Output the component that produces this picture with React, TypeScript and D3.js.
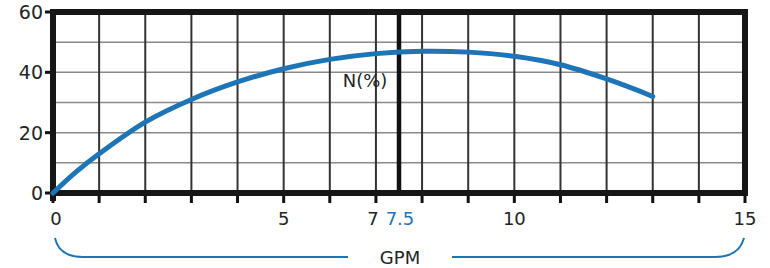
import * as React from "react";
import * as d3 from "d3";

// flow rate (GPM) vs efficiency N(%)
const gpm = [0, 0.5, 1, 2, 3, 4, 5, 6, 7, 8, 9, 10, 11, 12, 13];
const efficiency = [0, 7, 13, 23.5, 31, 36.8, 41.2, 44.3, 46.2, 47, 46.7, 45.3, 42.5, 37.8, 32];

const xTickLabels = [0, 5, 7, 10, 15];
const yTickLabels = [0, 20, 40, 60];
const markGpm = 7.5;

const W = 770, H = 268;
const margin = { top: 12, right: 25, bottom: 75, left: 53 };
const font = "'DejaVu Sans', sans-serif";
const ink = "#232323";
const blue = "#1d74b6";

export default function App() {
    const x = d3.scaleLinear().domain([0, 15]).range([margin.left, W - margin.right]);
    const y = d3.scaleLinear().domain([0, 60]).range([H - margin.bottom, margin.top]);

    const line = d3.line<number>()
        .x((_, i) => x(gpm[i]))
        .y(d => y(d))
        .curve(d3.curveCatmullRom.alpha(0.5));

    const vGrid = d3.range(1, 15);
    const hGrid = d3.range(10, 60, 10);
    const x0 = x(0), x1 = x(15), y0 = y(0), y1 = y(60);

    // bracket under axis
    const bTop = 238, bBot = 257, r = 26;
    const gapL = 348, gapR = 452;

    return (
        <svg width={W} height={H} style={{ position: "absolute", left: 0, top: 0, background: "#fff" }}>
            {/* grid */}
            {hGrid.map(v => (
                <line key={"h" + v} x1={x0} x2={x1} y1={y(v)} y2={y(v)} stroke="#8a8a8a" strokeWidth={1.5} />
            ))}
            {vGrid.map(v => (
                <line key={"v" + v} x1={x(v)} x2={x(v)} y1={y1} y2={y0} stroke="#333" strokeWidth={2} />
            ))}
            <line x1={x(markGpm)} x2={x(markGpm)} y1={y1} y2={y0} stroke="#111" strokeWidth={4.5} />

            {/* ticks */}
            {d3.range(0, 16).map(v => (
                <line key={"xt" + v} x1={x(v)} x2={x(v)} y1={y0} y2={y0 + 10} stroke="#111" strokeWidth={3} />
            ))}
            {yTickLabels.map(v => (
                <line key={"yt" + v} x1={x0 - 8} x2={x0} y1={y(v)} y2={y(v)} stroke="#111" strokeWidth={3} />
            ))}

            {/* frame */}
            <line x1={x0 - 3} x2={x1 + 3} y1={y1} y2={y1} stroke="#161616" strokeWidth={6} />
            <line x1={x1} x2={x1} y1={y1} y2={y0} stroke="#161616" strokeWidth={6} />
            <line x1={x0 - 3} x2={x1 + 3} y1={y0} y2={y0} stroke="#161616" strokeWidth={6} />
            <line x1={x0} x2={x0} y1={y1 - 3} y2={y0 + 8} stroke="#161616" strokeWidth={6} />

            {/* curve */}
            <path d={line(efficiency) || ""} fill="none" stroke={blue} strokeWidth={5} strokeLinecap="round" />

            <text x={365} y={87} textAnchor="middle" fontFamily={font} fontSize={18} fill={ink}>N(%)</text>

            {/* labels */}
            {yTickLabels.map(v => (
                <text key={"yl" + v} x={x0 - 10} y={y(v) + 7} textAnchor="end" fontFamily={font} fontSize={19} fill={ink}>{v}</text>
            ))}
            {xTickLabels.map(v => (
                <text key={"xl" + v} x={x(v) + (v === 0 ? 3 : v === 7 ? -3 : 0)} y={225} textAnchor="middle" fontFamily={font} fontSize={18} fill={ink}>{v}</text>
            ))}
            <text x={x(markGpm) + 1} y={225} textAnchor="middle" fontFamily={font} fontSize={18} fill={blue}>{markGpm}</text>

            {/* GPM bracket */}
            <path
                d={`M${x0 + 2},${bTop} Q${x0 + 6},${bBot} ${x0 + r + 4},${bBot} L${gapL},${bBot}
                    M${gapR},${bBot} L${x1 - r - 4},${bBot} Q${x1 - 6},${bBot} ${x1 - 1},${bTop}`}
                fill="none" stroke={blue} strokeWidth={2}
            />
            <text x={400} y={264} textAnchor="middle" fontFamily={font} fontSize={18} fill={ink}>GPM</text>
        </svg>
    );
}
